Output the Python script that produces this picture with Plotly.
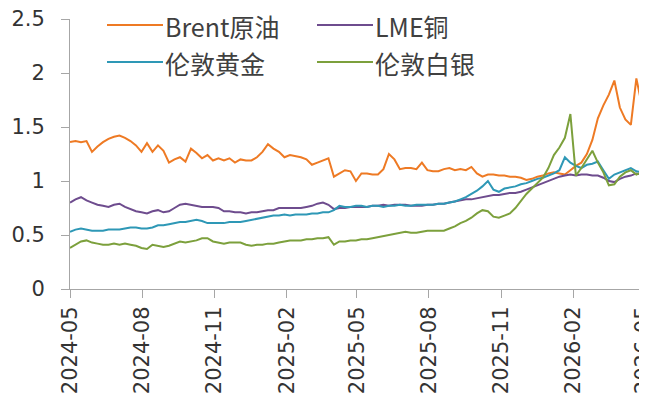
import pandas as pd
import plotly.graph_objects as go

# Weekly sampling dates (x categories)
dates = pd.date_range("2024-05-01", periods=105, freq="7D")

brent = [1.36, 1.37, 1.36, 1.37, 1.27, 1.32, 1.36, 1.39, 1.41, 1.42,
         1.40, 1.37, 1.33, 1.27, 1.35, 1.27, 1.33, 1.28, 1.17, 1.20,
         1.22, 1.18, 1.30, 1.26, 1.21, 1.24, 1.19, 1.21, 1.19, 1.21,
         1.17, 1.20, 1.19, 1.19, 1.22, 1.27, 1.34, 1.30, 1.27, 1.22,
         1.24, 1.23, 1.22, 1.20, 1.15, 1.17, 1.19, 1.21, 1.04, 1.07,
         1.10, 1.09, 1.00, 1.07, 1.07, 1.06, 1.06, 1.11, 1.25, 1.20,
         1.11, 1.12, 1.12, 1.11, 1.17, 1.10, 1.09, 1.09, 1.11, 1.12,
         1.10, 1.11, 1.10, 1.13, 1.07, 1.04, 1.06, 1.06, 1.05, 1.05,
         1.04, 1.04, 1.03, 1.01, 1.02, 1.04, 1.05, 1.07, 1.08, 1.07,
         1.06, 1.10, 1.14, 1.17, 1.25, 1.38, 1.58, 1.70, 1.80, 1.93,
         1.68, 1.57, 1.52, 1.95, 1.70]

copper = [0.80, 0.83, 0.85, 0.82, 0.80, 0.78, 0.77, 0.76, 0.78, 0.79,
          0.76, 0.74, 0.72, 0.71, 0.70, 0.72, 0.73, 0.71, 0.72, 0.75,
          0.78, 0.79, 0.78, 0.77, 0.76, 0.76, 0.76, 0.75, 0.72, 0.72,
          0.71, 0.71, 0.70, 0.71, 0.71, 0.72, 0.73, 0.73, 0.75, 0.75,
          0.75, 0.75, 0.75, 0.76, 0.77, 0.79, 0.80, 0.78, 0.74, 0.75,
          0.75, 0.76, 0.76, 0.76, 0.76, 0.77, 0.77, 0.78, 0.77, 0.78,
          0.78, 0.78, 0.77, 0.77, 0.77, 0.78, 0.78, 0.79, 0.79, 0.80,
          0.81, 0.82, 0.83, 0.83, 0.84, 0.85, 0.86, 0.87, 0.87, 0.88,
          0.89, 0.89, 0.90, 0.92, 0.94, 0.96, 0.98, 1.00, 1.02, 1.04,
          1.05, 1.06, 1.05, 1.06, 1.06, 1.05, 1.05, 1.03, 1.00, 0.99,
          1.02, 1.04, 1.05, 1.07, 1.06]

gold = [0.53, 0.55, 0.56, 0.55, 0.54, 0.54, 0.54, 0.55, 0.55, 0.55,
        0.56, 0.57, 0.57, 0.56, 0.56, 0.57, 0.59, 0.59, 0.60, 0.61,
        0.62, 0.62, 0.63, 0.64, 0.63, 0.61, 0.61, 0.61, 0.61, 0.62,
        0.62, 0.62, 0.63, 0.64, 0.65, 0.66, 0.67, 0.68, 0.68, 0.69,
        0.68, 0.69, 0.69, 0.69, 0.70, 0.70, 0.71, 0.71, 0.73, 0.77,
        0.76, 0.76, 0.77, 0.77, 0.76, 0.77, 0.77, 0.76, 0.77, 0.77,
        0.78, 0.77, 0.77, 0.78, 0.78, 0.78, 0.78, 0.79, 0.79, 0.80,
        0.81, 0.83, 0.85, 0.88, 0.91, 0.95, 1.00, 0.92, 0.90, 0.93,
        0.94, 0.95, 0.97, 0.98, 1.00, 1.02, 1.03, 1.05, 1.07, 1.10,
        1.22, 1.17, 1.14, 1.12, 1.15, 1.16, 1.18, 1.10, 1.02, 1.06,
        1.08, 1.10, 1.12, 1.09, 1.08]

silver = [0.38, 0.41, 0.44, 0.45, 0.43, 0.42, 0.41, 0.41, 0.42, 0.41,
          0.42, 0.41, 0.40, 0.38, 0.37, 0.41, 0.40, 0.39, 0.40, 0.42,
          0.44, 0.43, 0.44, 0.45, 0.47, 0.47, 0.44, 0.43, 0.42, 0.43,
          0.43, 0.43, 0.41, 0.40, 0.41, 0.41, 0.42, 0.42, 0.43, 0.44,
          0.45, 0.45, 0.45, 0.46, 0.46, 0.47, 0.47, 0.48, 0.41, 0.44,
          0.44, 0.45, 0.45, 0.46, 0.46, 0.47, 0.48, 0.49, 0.50, 0.51,
          0.52, 0.53, 0.52, 0.52, 0.53, 0.54, 0.54, 0.54, 0.54, 0.56,
          0.58, 0.61, 0.63, 0.66, 0.70, 0.73, 0.72, 0.67, 0.66, 0.68,
          0.70, 0.75, 0.82, 0.88, 0.93, 0.98, 1.03, 1.12, 1.24, 1.31,
          1.40, 1.62, 1.05, 1.12, 1.20, 1.28, 1.17, 1.08, 0.96, 0.97,
          1.04, 1.08, 1.10, 1.06, 1.08]

series_names = ["Brent原油", "LME铜", "伦敦黄金", "伦敦白银"]
series_values = [brent, copper, gold, silver]
series_colors = ["#EE7A24", "#6E4C8E", "#2E98B6", "#7CA03C"]

tick_dates = ["2024-05-01", "2024-08-01", "2024-11-01", "2025-02-01", "2025-05-01",
              "2025-08-01", "2025-11-01", "2026-02-01", "2026-05-01"]
tick_labels = ["2024-05", "2024-08", "2024-11", "2025-02", "2025-05",
               "2025-08", "2025-11", "2026-02", "2026-05"]

# page body has an 8px default margin; size the figure to fit the 647x400 window
OFF = 8
W, H = 647 - OFF, 400 - OFF
ML, MR, MT, MB = 70 - OFF, 2, 19 - OFF, 111

fig = go.Figure()
for name, vals, col in zip(series_names, series_values, series_colors):
    fig.add_trace(go.Scatter(x=dates, y=vals, mode="lines", name=name,
                             line=dict(color=col, width=2), showlegend=False))

# custom legend (2 columns x 2 rows), positions in window pixels
pw, ph = W - ML - MR, H - MT - MB
def px_x(x):
    return (x - OFF - ML) / pw
def px_y(y):
    return 1 - (y - OFF - MT) / ph

legend_pos = [(107, 25), (317, 25), (107, 62), (317, 62)]
for (lx, ly), name, col in zip(legend_pos, series_names, series_colors):
    fig.add_shape(type="line", xref="paper", yref="paper",
                  x0=px_x(lx), x1=px_x(lx + 56), y0=px_y(ly), y1=px_y(ly),
                  line=dict(color=col, width=2))
    fig.add_annotation(xref="paper", yref="paper", x=px_x(lx + 56), y=px_y(ly + 1),
                       text=name, showarrow=False, xanchor="left", yanchor="middle",
                       font=dict(family="Noto Sans CJK SC", size=25, color="#404040"))

fig.update_layout(
    width=W, height=H,
    margin=dict(l=ML, r=MR, t=MT, b=MB, autoexpand=False),
    paper_bgcolor="white", plot_bgcolor="white",
    font=dict(family="DejaVu Sans", size=21, color="#333333"),
)
fig.update_xaxes(
    type="date", range=["2024-05-01", "2026-05-03"], automargin=False,
    tickmode="array", tickvals=tick_dates, ticktext=tick_labels,
    tickangle=-90, showgrid=False, zeroline=False,
    showline=True, linecolor="#A6A6A6", linewidth=1,
    ticks="outside", ticklen=8, tickcolor="#A6A6A6",
    ticklabelstandoff=0, ticklabeloverflow="allow",
    tickfont=dict(family="DejaVu Sans", size=21, color="#333333"),
)
fig.update_yaxes(
    range=[0, 2.5], dtick=0.5, tick0=0, automargin=False,
    showgrid=False, zeroline=False,
    showline=True, linecolor="#A6A6A6", linewidth=1,
    ticks="outside", ticklen=8, tickcolor="#A6A6A6",
    ticklabelstandoff=12, ticklabeloverflow="allow",
    tickfont=dict(family="DejaVu Sans", size=21, color="#333333"),
)

fig.write_html("out.html")
